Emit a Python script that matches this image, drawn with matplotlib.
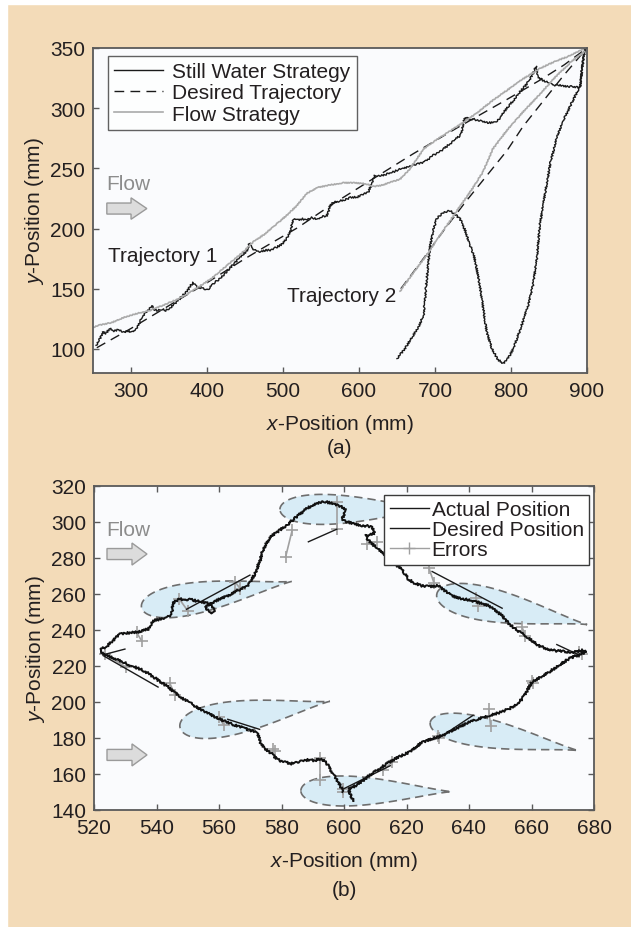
import numpy as np
import matplotlib
matplotlib.use('Agg')
import matplotlib.pyplot as plt
from matplotlib.patches import Polygon, FancyArrow, Rectangle
from matplotlib.lines import Line2D

plt.rcParams['font.family'] = ['Liberation Sans', 'DejaVu Sans']
plt.rcParams['mathtext.fontset'] = 'custom'
plt.rcParams['mathtext.rm'] = 'Liberation Sans'
plt.rcParams['mathtext.it'] = 'Liberation Sans:italic'

BG = '#F3DBB8'
FACE = '#FAFBFD'
TXT = '#231F20'
SPINE = '#5A5A5A'

# ---------------- Panel (a) data ----------------
still1_x = [254, 258, 263, 267, 272, 278, 284, 290, 296, 302, 307, 313, 320, 324, 327, 330, 334, 340, 346, 351,
            357, 363, 369, 375, 379, 382, 386, 390, 395, 400, 404, 408, 412, 418, 424, 430, 436, 442, 448, 452,
            455, 456, 459, 465, 472, 478, 483, 490, 496, 500, 505, 509, 511, 512, 514, 520, 526, 531, 538, 545,
            551, 557, 560, 562, 565, 569, 575, 582, 589, 597, 604, 612, 616, 619, 621, 626, 632, 638, 645, 652,
            658, 665, 672, 678, 685, 692, 698, 705, 711, 717, 723, 728, 733, 736, 739, 742, 746, 750, 756, 762,
            768, 776, 781, 785, 791, 797, 804, 811, 818, 824, 829, 833, 835, 842, 850, 858, 866, 874, 882, 891,
            894, 897]
still1_y = [103, 107, 114, 113, 117, 115, 116, 114, 115, 114, 117, 124, 131, 133, 136, 133, 132, 133, 132, 134,
            137, 141, 145, 149, 153, 155, 152, 151, 150, 149, 151, 154, 156, 159, 163, 167, 171, 175, 179, 181,
            186, 188, 184, 181, 181, 182, 182, 184, 186, 188, 192, 197, 200, 205, 208, 207, 208, 207, 209, 208,
            210, 210, 214, 219, 221, 222, 223, 224, 226, 226, 228, 230, 236, 241, 244, 244, 244, 246, 247, 249,
            250, 251, 253, 254, 255, 258, 261, 263, 266, 269, 272, 275, 277, 283, 292, 292, 290, 291, 290, 289,
            288, 288, 289, 291, 297, 302, 307, 313, 318, 323, 329, 335, 326, 323, 321, 319, 319, 318, 318, 317,
            335, 349]

desired1_x = [255, 300, 350, 400, 450, 474, 520, 562, 610, 671, 730, 794, 840, 870, 900]
desired1_y = [101, 117, 136, 155, 175, 184, 201, 219, 238, 262, 284, 307, 324, 336, 350]

flow1_x = [250, 260, 275, 290, 305, 325, 345, 360, 375, 390, 405, 420, 435, 450, 461, 475, 490, 505, 518, 531,
           545, 560, 579, 595, 610, 619, 630, 644, 654, 665, 675, 685, 700, 715, 737, 755, 775, 795, 815, 838,
           855, 875, 895]
flow1_y = [118, 120, 122, 126, 129, 132, 137, 141, 146, 152, 158, 166, 174, 182, 189, 195, 203, 211, 219, 229,
           234, 236, 238, 238, 237, 235, 236, 239, 241, 248, 257, 266, 273, 279, 288, 296, 306, 315, 324, 333,
           338, 343, 349]

still2_x = [650, 660, 670, 678, 685, 688, 691, 693, 697, 702, 710, 719, 726, 733, 740, 745, 751, 757, 762, 768,
            775, 783, 790, 796, 803, 812, 822, 829, 834, 838, 845, 852, 860, 869, 878, 885, 891, 894, 897]
still2_y = [92, 100, 110, 118, 128, 150, 170, 183, 197, 208, 213, 215, 212, 208, 198, 188, 178, 160, 140, 114,
            100, 91, 88, 92, 100, 116, 135, 153, 175, 203, 230, 255, 275, 290, 302, 311, 318, 335, 349]

desired2_x = [655, 680, 711, 740, 772, 795, 816, 845, 869, 900]
desired2_y = [150, 171, 198, 222, 247, 265, 285, 308, 327, 350]

flow2_x = [654, 670, 689, 705, 728, 748, 763, 776, 795, 816, 840, 860, 880, 897]
flow2_y = [148, 162, 178, 193, 214, 232, 247, 266, 282, 297, 313, 327, 339, 347]

# ---------------- Panel (b) data ----------------
act_x = [599.5, 599.3, 598.8, 598.2, 597.5, 596.5, 595.5, 594.8, 593.9, 592.3, 590.5, 589.0, 587.0, 585.5, 584.0,
         582.7, 581.5, 580.0, 578.5, 577.3, 576.0, 574.2, 573.3, 572.8, 572.1, 570.5, 569.0, 567.8, 566.0, 564.0,
         561.4, 559.5, 557.5, 555.0, 553.0, 550.8, 548.6, 546.8, 545.0, 543.2, 541.0, 539.0, 536.8, 534.5, 532.0,
         529.3, 527.0, 524.8, 522.9, 522.0, 522.4, 523.5, 524.5, 526.1, 527.0, 528.3, 530.5, 532.0, 533.6, 535.5,
         537.4, 538.2, 539.0, 541.0, 542.8, 544.3, 545.0, 545.4, 546.5, 547.5, 549.0, 551.0, 553.0, 555.0, 557.1,
         558.7, 558.0, 556.4, 555.5, 557.0, 558.5, 560.3, 562.5, 565.1, 567.0, 569.0, 570.2, 571.5, 572.2, 573.1,
         573.8, 575.0, 577.0, 579.5, 582.3, 584.5, 586.6, 588.5, 590.8, 592.5, 594.0, 596.0, 598.3, 600.0, 600.5,
         600.0, 599.4, 600.2, 601.5, 603.5, 605.8, 607.5, 609.0, 609.8, 609.5, 608.0, 606.9, 607.2, 608.0, 609.5,
         611.0, 612.2, 613.2, 615.0, 616.8, 618.5, 619.5, 620.6, 622.5, 624.9, 627.5, 630.2, 632.5, 634.5, 637.5,
         640.9, 643.5, 646.3, 648.5, 650.5, 652.5, 654.8, 656.5, 658.0, 660.2, 662.3, 665.0, 667.6, 670.5, 673.0,
         676.2, 677.5, 676.0, 674.0, 671.9, 668.5, 665.5, 662.5, 660.1, 658.5, 657.0, 655.0, 652.7, 649.5, 646.3,
         643.0, 639.9, 635.5, 631.4, 628.0, 625.0, 623.0, 620.8, 617.5, 614.4, 611.0, 608.0, 605.8, 603.7, 601.6,
         601.8, 602.5, 603.0]
act_y = [150.0, 151.7, 153.5, 155.4, 157.5, 160.0, 162.8, 165.0, 167.4, 168.2, 167.5, 168.0, 167.4, 166.8, 166.0,
         165.6, 166.5, 167.0, 168.3, 170.5, 172.5, 174.8, 177.5, 180.0, 183.1, 184.0, 184.8, 185.9, 186.5, 187.8,
         189.6, 191.0, 192.8, 195.2, 197.0, 199.5, 201.7, 204.0, 206.5, 209.0, 211.5, 214.0, 216.5, 218.5, 220.0,
         222.0, 223.8, 225.3, 226.7, 228.0, 229.4, 230.5, 231.5, 234.1, 236.0, 237.8, 238.2, 238.8, 238.7, 239.5,
         240.6, 243.0, 245.2, 246.0, 247.0, 247.9, 251.0, 255.4, 256.5, 257.2, 256.8, 257.0, 256.0, 255.5, 254.4,
         251.7, 249.4, 251.1, 252.8, 254.5, 255.8, 257.2, 258.8, 261.1, 262.8, 264.4, 267.5, 271.1, 274.5, 278.3,
         283.0, 288.0, 292.5, 295.5, 299.0, 302.5, 305.4, 308.0, 310.0, 311.0, 311.2, 310.5, 309.0, 307.8, 306.3,
         304.0, 301.7, 300.5, 299.8, 299.0, 298.0, 297.8, 297.0, 295.0, 293.3, 292.8, 292.4, 291.0, 289.6, 287.0,
         285.0, 283.0, 281.3, 278.5, 276.0, 273.9, 271.0, 268.3, 266.0, 264.6, 264.2, 264.6, 261.5, 259.0, 257.5,
         256.3, 255.0, 253.5, 251.0, 248.0, 244.0, 240.6, 238.5, 236.9, 234.0, 231.3, 229.5, 228.5, 228.0, 227.6,
         228.5, 227.8, 226.5, 225.5, 224.0, 220.0, 216.5, 213.5, 211.0, 206.0, 201.7, 198.5, 196.1, 194.0, 192.4,
         190.5, 188.7, 185.0, 181.3, 179.5, 177.6, 175.0, 172.1, 169.5, 166.5, 162.5, 159.1, 156.0, 153.5, 151.7,
         149.5, 147.0, 145.0]

# desired-position segments (start x, start y, end x, end y)
des_x0 = [588.6, 549.6, 628.2, 522.9, 524.0, 630.1, 599.8, 668.1, 562.8]
des_y0 = [289.0, 251.5, 272.5, 225.8, 226.7, 179.7, 151.7, 231.9, 190.4]
des_x1 = [597.7, 569.9, 650.6, 540.5, 529.9, 641.3, 614.8, 675.0, 573.0]
des_y1 = [296.0, 270.5, 252.1, 208.3, 229.4, 192.6, 164.6, 226.3, 184.8]

# error pairs
err_x0 = [597.6, 583.4, 607.4, 565.2, 547.3, 533.6, 523.4, 544.3, 559.9, 577.2, 592.3, 599.8, 612.6, 630.0,
          646.3, 660.0, 675.2, 657.0, 642.3, 627.2]
err_y0 = [311.0, 295.3, 288.0, 266.6, 257.2, 238.7, 226.7, 210.3, 191.9, 174.0, 168.9, 151.7, 162.0, 181.2,
          196.1, 211.5, 227.6, 241.5, 258.0, 274.4]
err_x1 = [597.6, 581.3, 610.6, 566.8, 550.0, 535.2, 530.3, 545.9, 561.5, 577.8, 592.3, 599.6, 615.3, 630.4,
          646.9, 660.4, 676.0, 658.0, 642.8, 628.8]
err_y1 = [296.2, 280.5, 289.0, 262.9, 250.7, 234.1, 219.3, 203.9, 187.2, 172.8, 156.9, 150.0, 166.6, 179.8,
          186.8, 210.5, 226.7, 236.9, 253.5, 266.1]

# flow teardrops: round end (x0, y0), tip (x1, y1), half width (px)
tear_x0 = [579.5, 535.2, 629.7, 547.5, 627.6, 586.2]
tear_y0 = [307.0, 252.6, 260.0, 186.0, 188.7, 150.7]
tear_x1 = [628.0, 583.3, 677.8, 595.5, 675.0, 634.5]
tear_y1 = [307.0, 267.0, 243.0, 200.4, 173.0, 150.2]
tear_hw = [15, 16, 17, 17, 15, 15]

# ---------------- Figure ----------------
W, H = 631, 928
fig = plt.figure(figsize=(W / 100, H / 100), dpi=100, facecolor=BG)
fig.patches.append(Rectangle((0, 1 - 5 / H), 1, 5 / H, transform=fig.transFigure, color='white', zorder=-10))
fig.patches.append(Rectangle((0, 0), 7 / W, 1, transform=fig.transFigure, color='white', zorder=-10))

axa = fig.add_axes([93 / W, 1 - 374 / H, 494 / W, 325 / H])
axb = fig.add_axes([94 / W, 1 - 811 / H, 500 / W, 324 / H])

FS = 15


def style_axes(ax, all_sides):
    ax.set_facecolor(FACE)
    for s in ax.spines.values():
        s.set_color(SPINE)
        s.set_linewidth(1.3)
    ax.tick_params(direction='in', length=4, width=1, color=SPINE, labelsize=FS, labelcolor=TXT, pad=5.5,
                   top=all_sides, right=all_sides)


# ---- Panel (a)
style_axes(axa, False)
l_still, = axa.plot(still1_x, still1_y, color='#1A1A1A', lw=1.0)
l_still2, = axa.plot(still2_x, still2_y, color='#1A1A1A', lw=1.0)
axa.plot(desired1_x, desired1_y, color='#1A1A1A', lw=1.0, dashes=(7, 4.5))
axa.plot(desired2_x, desired2_y, color='#1A1A1A', lw=1.0, dashes=(7, 4.5))
l_flow, = axa.plot(flow1_x, flow1_y, color='#AAAAAA', lw=1.2)
l_flow2, = axa.plot(flow2_x, flow2_y, color='#AAAAAA', lw=1.2)
for ln in (l_still, l_still2):
    ln.set_sketch_params(scale=0.9, length=3, randomness=2)
for ln in (l_flow, l_flow2):
    ln.set_sketch_params(scale=0.5, length=3, randomness=2)

axa.set_xlim(250, 900)
axa.set_ylim(80, 350)
axa.set_xticks([300, 400, 500, 600, 700, 800, 900])
axa.set_yticks([100, 150, 200, 250, 300, 350])
axa.set_xlabel('$x$-Position (mm)', fontsize=FS, color=TXT, labelpad=9)
axa.set_ylabel('$y$-Position (mm)', fontsize=FS, color=TXT, labelpad=3)

h_a = [Line2D([], [], color='#1A1A1A', lw=1.0), Line2D([], [], color='#1A1A1A', lw=1.0, dashes=(7, 4.5)),
       Line2D([], [], color='#AAAAAA', lw=1.2)]
lega = axa.legend(h_a, ['Still Water Strategy', 'Desired Trajectory', 'Flow Strategy'], loc='upper left',
                  bbox_to_anchor=(0.030, 0.975), borderaxespad=0, fontsize=FS, frameon=True, fancybox=False,
                  handlelength=2.35, handletextpad=0.45, labelspacing=0.1, borderpad=0.3)
lega.get_frame().set_edgecolor('#3A3A3A')
lega.get_frame().set_linewidth(1.0)
for t in lega.get_texts():
    t.set_color(TXT)

axa.text(0.026, 0.583, 'Flow', transform=axa.transAxes, fontsize=FS, color='#8C8C8C', va='center', ha='left')
axa.add_patch(FancyArrow(0.028, 0.506, 0.081, 0, width=0.034, head_width=0.066, head_length=0.032,
                         length_includes_head=True, transform=axa.transAxes, fc='#DCDCDC', ec='#9A9A9A', lw=1))
axa.text(270, 178, 'Trajectory 1', fontsize=FS, color=TXT, va='center', ha='left')
axa.text(505, 144, 'Trajectory 2', fontsize=FS, color=TXT, va='center', ha='left')
fig.text(0.5 * (93 + 587) / W, 1 - 448 / H, '(a)', fontsize=FS, color=TXT, ha='center', va='center')

# ---- Panel (b)
style_axes(axb, True)
XL, YL = (520, 680), (140, 320)
axb.set_xlim(*XL)
axb.set_ylim(*YL)
sx = 500 / (XL[1] - XL[0])
sy = 324 / (YL[1] - YL[0])


def teardrop(x0, y0, x1, y1, hw, p=1.3, n=90):
    P0 = np.array([x0 * sx, y0 * sy])
    P1 = np.array([x1 * sx, y1 * sy])
    d = P1 - P0
    L = np.hypot(*d)
    u = d / L
    nv = np.array([-u[1], u[0]])
    th = np.linspace(0, np.pi, n)
    s = (1 - np.cos(th)) / 2
    prof = np.sqrt(s) * (1 - s) ** p
    prof = prof / prof.max() * hw
    up = P0 + s[:, None] * d + prof[:, None] * nv
    lo = P0 + s[::-1, None] * d - prof[::-1, None] * nv
    pts = np.vstack([up, lo])
    return np.column_stack([pts[:, 0] / sx, pts[:, 1] / sy])


for i in range(len(tear_x0)):
    pts = teardrop(tear_x0[i], tear_y0[i], tear_x1[i], tear_y1[i], tear_hw[i])
    axb.add_patch(Polygon(pts, closed=True, fc='#D8ECF6', ec='#6E6E6E', lw=1.2, ls=(0, (5, 3)), zorder=1))

for i in range(len(des_x0)):
    axb.plot([des_x0[i], des_x1[i]], [des_y0[i], des_y1[i]], color='#1A1A1A', lw=1.0, zorder=3)

for i in range(len(err_x0)):
    axb.plot([err_x0[i], err_x1[i]], [err_y0[i], err_y1[i]], color='#A0A0A0', lw=1.2, marker='+', ms=9,
             mew=1.2, zorder=2)

l_act, = axb.plot(act_x, act_y, color='#111111', lw=1.4, zorder=4)
l_act.set_sketch_params(scale=1.1, length=2.5, randomness=2)

axb.set_xticks(np.arange(520, 681, 20))
axb.set_yticks(np.arange(140, 321, 20))
axb.set_xlabel('$x$-Position (mm)', fontsize=FS, color=TXT, labelpad=9)
axb.set_ylabel('$y$-Position (mm)', fontsize=FS, color=TXT, labelpad=3)

h_b = [Line2D([], [], color='#1A1A1A', lw=1.0), Line2D([], [], color='#1A1A1A', lw=1.0),
       Line2D([], [], color='#A0A0A0', lw=1.0, marker='+', ms=9, mew=1.0)]
legb = axb.legend(h_b, ['Actual Position', 'Desired Position', 'Errors'], loc='upper right',
                  bbox_to_anchor=(0.99, 0.972), borderaxespad=0, fontsize=FS, frameon=True, fancybox=False,
                  handlelength=1.9, handletextpad=0.12, labelspacing=0.05, borderpad=0.25, numpoints=1,
                  framealpha=1)
legb.get_frame().set_edgecolor('#3A3A3A')
legb.get_frame().set_linewidth(1.0)
for t in legb.get_texts():
    t.set_color(TXT)

axb.text(0.024, 0.866, 'Flow', transform=axb.transAxes, fontsize=FS, color='#8C8C8C', va='center', ha='left')
for yc in (0.79, 0.17):
    axb.add_patch(FancyArrow(0.026, yc, 0.08, 0, width=0.034, head_width=0.068, head_length=0.03,
                             length_includes_head=True, transform=axb.transAxes, fc='#DCDCDC', ec='#9A9A9A',
                             lw=1, zorder=2))
fig.text(0.5 * (94 + 594) / W, 1 - 891 / H, '(b)', fontsize=FS, color=TXT, ha='center', va='center')

fig.savefig('out.png', dpi=100, facecolor=BG)
